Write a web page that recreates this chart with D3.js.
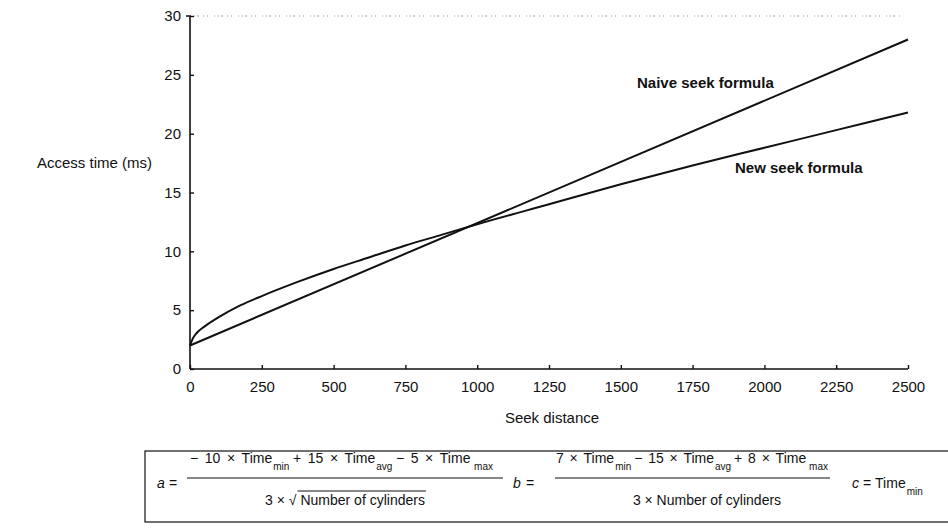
<!DOCTYPE html>
<html>
<head>
<meta charset="utf-8">
<script src="https://cdn.jsdelivr.net/npm/d3@7"></script>
<style>
  html, body { margin: 0; padding: 0; background: #fff; }
  svg { display: block; }
  text { font-family: "Liberation Sans", Arial, Helvetica, sans-serif; fill: #111; }
</style>
</head>
<body>
<svg id="chart" width="948" height="528"></svg>
<script>
// ---- data ----
const seekDistance = [0, 10, 25, 50, 100, 175, 250, 375, 500, 625, 750, 875, 1000, 1250, 1500, 1750, 2000, 2250, 2500];
const newSeekTime  = [2.0, 2.6, 3.1, 3.6, 4.4, 5.4, 6.2, 7.4, 8.5, 9.5, 10.5, 11.4, 12.3, 14.0, 15.7, 17.3, 18.8, 20.3, 21.8];
const naiveDistance = [0, 2500];
const naiveSeekTime = [2.0, 28.0];
const xTicks = [0, 250, 500, 750, 1000, 1250, 1500, 1750, 2000, 2250, 2500];
const yTicks = [0, 5, 10, 15, 20, 25, 30];
const seriesLabels = ["Naive seek formula", "New seek formula"];
const axisTitles = { x: "Seek distance", y: "Access time (ms)" };

const svg = d3.select("#chart");
const x = d3.scaleLinear().domain([0, 2500]).range([190, 908]);
const y = d3.scaleLinear().domain([0, 30]).range([369, 16]);

// top dotted frame line
svg.append("line")
  .attr("x1", x(0)).attr("x2", 900).attr("y1", y(30)).attr("y2", y(30))
  .attr("stroke", "#999").attr("stroke-width", 1)
  .attr("stroke-dasharray", "1,3,1,2,2,4,1,3,1,6");

// y axis (ticks inward to the right)
const yAxis = d3.axisLeft(y).tickValues(yTicks).tickSize(-4).tickPadding(9).tickFormat(d3.format("d"));
const gy = svg.append("g").attr("transform", `translate(${x(0)},0)`).call(yAxis);
gy.select(".domain").attr("d", `M-4,${y(30)}H0V${y(0)}`).attr("stroke", "#111").attr("stroke-width", 1.6);
gy.selectAll(".tick line").attr("stroke", "#111").attr("stroke-width", 1.4);
gy.selectAll(".tick text").attr("font-size", 15).attr("font-family", "Liberation Sans, Arial, sans-serif").attr("fill", "#111");

// x axis (ticks inward upward)
const xAxis = d3.axisBottom(x).tickValues(xTicks).tickSize(-4).tickPadding(12).tickFormat(d3.format("d"));
const gx = svg.append("g").attr("transform", `translate(0,${y(0)})`).call(xAxis);
gx.select(".domain").attr("d", `M${x(0)},0H${x(2500)}`).attr("stroke", "#111").attr("stroke-width", 1.6);
gx.selectAll(".tick line").attr("stroke", "#111").attr("stroke-width", 1.4);
gx.selectAll(".tick text").attr("font-size", 15).attr("font-family", "Liberation Sans, Arial, sans-serif").attr("fill", "#111");

// axis titles
svg.append("text").attr("x", 37).attr("y", 168).attr("font-size", 15).text(axisTitles.y);
svg.append("text").attr("x", 552).attr("y", 423).attr("font-size", 15).attr("text-anchor", "middle").text(axisTitles.x);

// lines
const line = d3.line().x(d => x(d[0])).y(d => y(d[1]));
svg.append("path")
  .datum(naiveDistance.map((d, i) => [d, naiveSeekTime[i]]))
  .attr("d", line).attr("fill", "none").attr("stroke", "#111").attr("stroke-width", 2);
svg.append("path")
  .datum(seekDistance.map((d, i) => [d, newSeekTime[i]]))
  .attr("d", line.curve(d3.curveMonotoneX)).attr("fill", "none").attr("stroke", "#111").attr("stroke-width", 2);

// series labels
svg.append("text").attr("x", 637).attr("y", 88).attr("font-size", 15).attr("font-weight", "bold").text(seriesLabels[0]);
svg.append("text").attr("x", 735).attr("y", 173).attr("font-size", 15).attr("font-weight", "bold").text(seriesLabels[1]);

// ---- formula box ----
const fb = svg.append("g");
fb.append("rect").attr("x", 145).attr("y", 451).attr("width", 830).attr("height", 71)
  .attr("fill", "none").attr("stroke", "#111").attr("stroke-width", 1.2);

// lay out tokens of main text / subscripts; extra width spread over the spaces
function numerator(g, x0, yBase, parts, totalWidth) {
  const FS = 14, SFS = 10;
  const probe = g.append("text").attr("font-size", FS).text("a a");
  const probe2 = g.append("text").attr("font-size", FS).text("aa");
  const spaceW = probe.node().getComputedTextLength() - probe2.node().getComputedTextLength();
  probe.remove(); probe2.remove();
  const toks = [];
  parts.forEach((p, pi) => {
    if (p.sub) {
      const n = g.append("text").attr("y", yBase + 7).attr("font-size", SFS).text(p.sub);
      toks.push({n, w: n.node().getComputedTextLength(), gap: pi === parts.length - 1 ? "flex" : "sub"});
    } else {
      p.t.split(" ").forEach((w, wi) => {
        const n = g.append("text").attr("y", yBase).attr("font-size", FS).text(w);
        toks.push({n, w: n.node().getComputedTextLength(), gap: wi === 0 ? (pi === 0 ? null : "flex") : "space"});
      });
    }
  });
  const natural = toks.reduce((s, t) => s + t.w + (t.gap === "space" ? spaceW : t.gap ? 1 : 0), 0);
  const units = toks.filter(t => t.gap === "space" || t.gap === "flex").length;
  const ws = totalWidth ? Math.max(0, (totalWidth - natural) / units) : 0;
  let cx = x0;
  toks.forEach(t => {
    if (t.gap === "space") cx += spaceW + ws;
    else if (t.gap === "sub") cx += 1;
    else if (t.gap === "flex") cx += 1 + ws;
    t.n.attr("x", cx);
    cx += t.w;
  });
}

// a =
fb.append("text").attr("x", 157).attr("y", 488).attr("font-size", 14).attr("font-style", "italic").text("a");
fb.append("text").attr("x", 169).attr("y", 488).attr("font-size", 14).text("=");
numerator(fb, 190, 463, [
  {t: "− 10 × Time"}, {sub: "min"}, {t: "+ 15 × Time"}, {sub: "avg"}, {t: "− 5 × Time"}, {sub: "max"}
], 303);
fb.append("line").attr("x1", 187).attr("x2", 503).attr("y1", 478).attr("y2", 478).attr("stroke", "#111").attr("stroke-width", 1);
const da = fb.append("text").attr("x", 345).attr("y", 505).attr("font-size", 14).attr("text-anchor", "middle")
  .text("3 × √ Number of cylinders");
{
  const node = da.node();
  const s = node.textContent.indexOf("N");
  const sx = node.getStartPositionOfChar(s).x - 3;
  const bb = node.getBBox();
  fb.append("line").attr("x1", sx).attr("x2", bb.x + bb.width + 1).attr("y1", 491).attr("y2", 491)
    .attr("stroke", "#111").attr("stroke-width", 1);
}

// b =
fb.append("text").attr("x", 513).attr("y", 488).attr("font-size", 14).attr("font-style", "italic").text("b");
fb.append("text").attr("x", 526).attr("y", 488).attr("font-size", 14).text("=");
numerator(fb, 556, 463, [
  {t: "7 × Time"}, {sub: "min"}, {t: "− 15 × Time"}, {sub: "avg"}, {t: "+ 8 × Time"}, {sub: "max"}
], 272);
fb.append("line").attr("x1", 555).attr("x2", 830).attr("y1", 478).attr("y2", 478).attr("stroke", "#111").attr("stroke-width", 1);
fb.append("text").attr("x", 707).attr("y", 505).attr("font-size", 14).attr("text-anchor", "middle").text("3 × Number of cylinders");

// c =
fb.append("text").attr("x", 852).attr("y", 488).attr("font-size", 14).attr("font-style", "italic").text("c");
numerator(fb, 863, 488, [{t: "= Time"}, {sub: "min"}], 58);
</script>
</body>
</html>
